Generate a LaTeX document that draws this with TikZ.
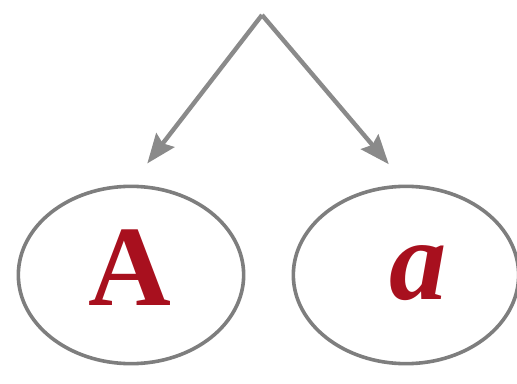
\documentclass[tikz,border=0pt]{standalone}
\usepackage{fontspec}
\setmainfont{Liberation Serif}
\usepackage{tikz}
\usetikzlibrary{shapes.geometric, arrows.meta, positioning, calc}
\definecolor{lettred}{HTML}{A8101E}
\definecolor{linegray}{HTML}{8A8A8A}
\definecolor{ringgray}{HTML}{7E7E7E}
\tikzset{
  allelering/.style={ellipse, draw=ringgray, line width=2.7pt, inner sep=0pt,
                     minimum width=169pt, minimum height=133pt},
  alleletxt/.style={text=lettred, inner sep=0pt, font=\fontsize{86}{86}\selectfont\bfseries},
  splitarr/.style={-{Stealth[length=22pt, width=17pt, inset=3pt]}, draw=linegray,
                   line width=3.3pt, shorten >=20pt},
}

\begin{document}
\begin{tikzpicture}[x=0.75pt,y=-0.75pt]
      % frame (pixel units)
      \useasboundingbox (0,0) rectangle (517,384);

      % Rings
      \node[allelering] (ringA) at (131,275) {};
      \node[allelering] (ringa) at (406,275) {};

      % Letters
      \node[alleletxt] (letA) at (130,268) {A};
      \node[alleletxt, font=\fontsize{86}{86}\selectfont\bfseries\itshape] (leta) at (418,273) {a};

      % Split point
      \coordinate (split) at (262,15);

      % Arrows
      \draw[splitarr] (split) -- (ringA.north);
      \draw[splitarr] (split) -- (ringa.north);

\end{tikzpicture}
\end{document}
